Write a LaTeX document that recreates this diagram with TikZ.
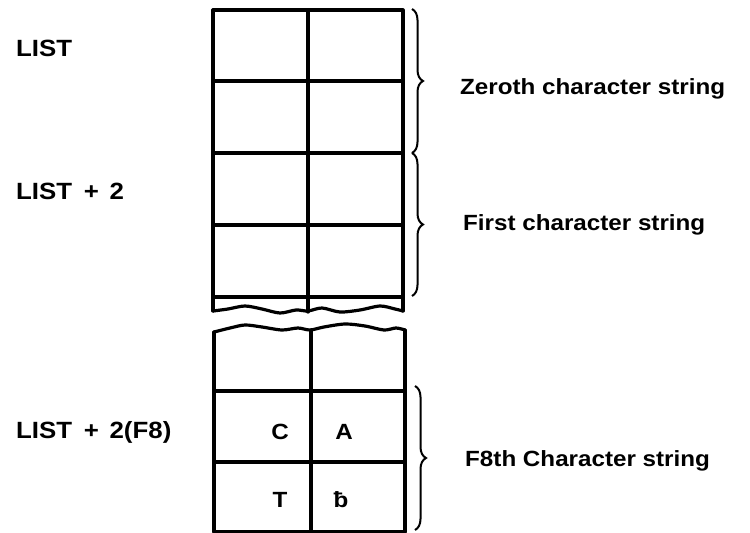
\documentclass[tikz,border=0pt]{standalone}
\usepackage{fontspec}
\setmainfont{Liberation Sans}[FakeStretch=1.1]
\usetikzlibrary{decorations.pathreplacing}
\begin{document}
\begin{tikzpicture}[x=1pt,y=-1pt,
  grid/.style={line width=3.2pt, line cap=round, line join=round},
  lbl/.style={anchor=base west, inner sep=0pt, font=\bfseries\fontsize{22}{26}\selectfont},
  llbl/.style={anchor=base west, inner sep=0pt, font=\bfseries\fontsize{23.5}{28}\selectfont},
  cell/.style={anchor=base, inner sep=0pt, font=\bfseries\fontsize{22}{26}\selectfont},
  brc/.style={decorate, decoration={brace, amplitude=11pt}, line width=2pt}]
\useasboundingbox (0,0) rectangle (750,533);
% upper box
\draw[grid] (213,311) -- (213,10) -- (403,10) -- (403,311);
\draw[grid] (308,10) -- (308,312);
\foreach \y in {81,153,225,297} \draw[grid] (213,\y) -- (403,\y);
\draw[grid] plot[smooth] coordinates {(213,311) (228,309) (245,306) (262,309) (280,313) (296,310) (308,311) (322,308) (340,312) (360,310) (380,306) (395,309) (403,311)};
% lower box
\draw[grid] plot[smooth] coordinates {(214,332) (230,328) (245,325) (262,327) (282,330) (298,328) (310,330) (324,327) (345,324) (365,326) (384,330) (396,328) (405,330)};
\draw[grid] (214,332) -- (214,532) -- (405,532) -- (405,330);
\draw[grid] (311,330) -- (311,532);
\foreach \y in {391,462} \draw[grid] (214,\y) -- (405,\y);
% cell letters
\node[cell] (c) at (280,439) {C};
\node[cell] (a) at (344,439) {A};
\node[cell] (t) at (280,507) {T};
\node[cell] (b) at (341,507) {ƀ};
% braces
\draw[brc] (412,9) -- (412,153) coordinate (b1);
\draw[brc] (412,153) -- (412,296) coordinate (b2);
\draw[brc] (415,386) -- (415,530) coordinate (b3);
% labels
\node[llbl] (l1) at (16,56) {LIST};
\node[llbl] (l2) at (16,199) {LIST\hspace{0.5em}+\hspace{0.45em}2};
\node[llbl] (l3) at (16,438) {LIST\hspace{0.5em}+\hspace{0.45em}2(F8)};
\node[lbl] (z) at (460,94) {Zeroth character string};
\node[lbl] (f) at (463,230) {First character string};
\node[lbl] (f8) at (465,466) {F8th Character string};
\end{tikzpicture}
\end{document}
